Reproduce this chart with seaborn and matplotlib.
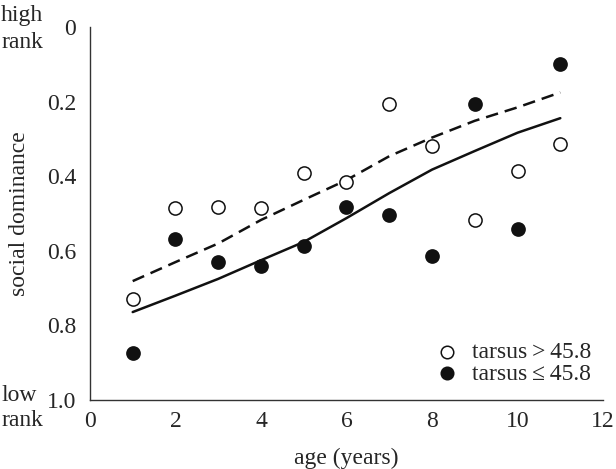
import numpy as np
import pandas as pd
import seaborn as sns
import matplotlib.pyplot as plt

age = [1, 2, 3, 4, 5, 6, 7, 8, 9, 10, 11]
# observed means
large_tarsus = [0.729, 0.486, 0.483, 0.486, 0.391, 0.414, 0.207, 0.319, 0.517, 0.385, 0.314]
small_tarsus = [0.875, 0.567, 0.630, 0.641, 0.586, 0.483, 0.504, 0.614, 0.206, 0.542, 0.098]
# fitted curves
fit_large = [0.681, 0.630, 0.580, 0.517, 0.463, 0.410, 0.346, 0.296, 0.251, 0.215, 0.175]
fit_small = [0.764, 0.720, 0.675, 0.625, 0.576, 0.512, 0.445, 0.382, 0.332, 0.283, 0.244]

sns.set_style("white")
plt.rcParams['font.family'] = ['Liberation Serif', 'DejaVu Serif']
FS = 17

fig = plt.figure(figsize=(6.16, 4.69), dpi=100)
ax = fig.add_axes([0.146, 0.147, 0.833, 0.795])

df = pd.DataFrame({'age': age, 'large': large_tarsus, 'small': small_tarsus,
                   'fit_large': fit_large, 'fit_small': fit_small})

sns.lineplot(data=df, x='age', y='fit_large', ax=ax, color='#111111', lw=1.8,
             linestyle=(0, (5, 2.8)))
sns.lineplot(data=df, x='age', y='fit_small', ax=ax, color='#111111', lw=1.8)
sns.scatterplot(data=df, x='age', y='large', ax=ax, s=90, facecolor='white',
                edgecolor='#111111', linewidth=1.1, zorder=3,
                label='tarsus\u2009>\u200945.8')
sns.scatterplot(data=df, x='age', y='small', ax=ax, s=90, color='#111111',
                edgecolor='#111111', linewidth=1.1, zorder=3,
                label='tarsus\u2009\u2264\u200945.8')

ax.set_xlim(0, 12)
ax.set_ylim(1.0, 0)
ax.set_xticks(range(0, 13, 2))
ax.set_yticks([0, 0.2, 0.4, 0.6, 0.8, 1.0])
ax.set_yticklabels(['0', '0.2', '0.4', '0.6', '0.8', '1.0'])
sns.despine(ax=ax)
for s in ['left', 'bottom']:
    ax.spines[s].set_color('#333333')
    ax.spines[s].set_linewidth(1.0)
ax.tick_params(axis='x', direction='out', length=4, width=1, labelsize=FS, pad=4, color='#333333')
ax.tick_params(axis='y', direction='out', length=5, width=1, labelsize=FS, pad=5, color='#333333')
ax.set_xlabel('age (years)', fontsize=FS, labelpad=11)
ax.set_ylabel('social dominance', fontsize=FS, labelpad=12)

fig.text(0.002, 0.99, 'high\nrank', fontsize=FS, va='top', ha='left', linespacing=1.4)
fig.text(0.002, 0.08, 'low\nrank', fontsize=FS, va='bottom', ha='left', linespacing=1.25)

leg = ax.legend(loc='lower right', frameon=False, fontsize=FS, handletextpad=0.05,
                borderaxespad=0.1, labelspacing=0.0, markerscale=0.95,
                bbox_to_anchor=(1.0, 0.01))

fig.savefig('out.png', dpi=100)
